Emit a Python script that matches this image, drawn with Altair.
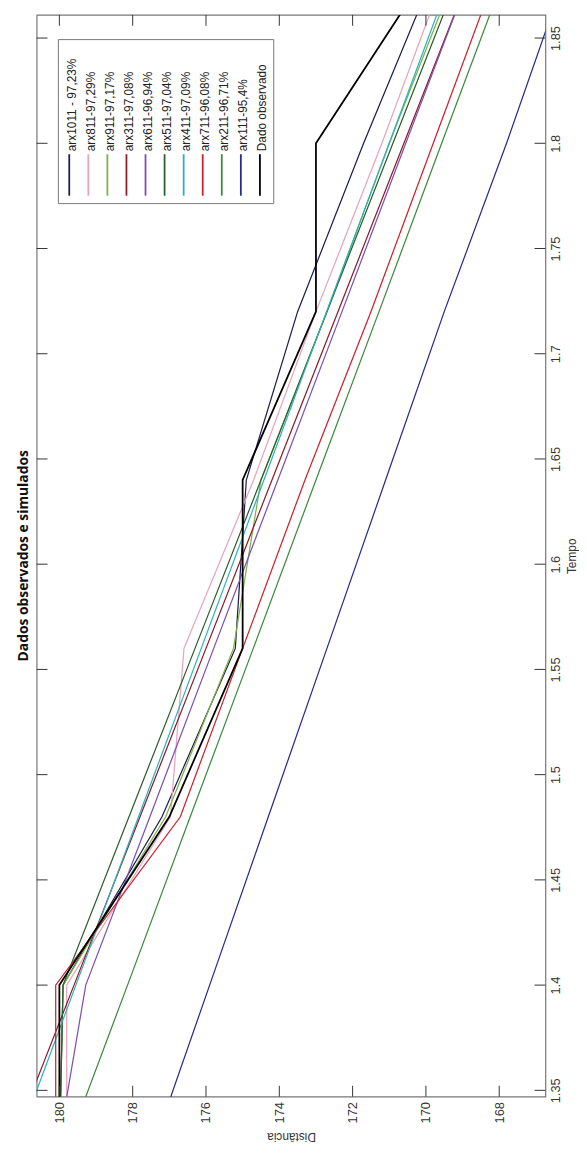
import altair as alt
import pandas as pd

# ---- data ----
tempo = [1.32, 1.40, 1.48, 1.56, 1.64, 1.72, 1.80, 1.88]

arx1011 = [180.0, 179.9, 177.2, 175.2, 174.9, 173.5, 171.7, 169.8]
arx811 = [179.8, 179.8, 176.97, 176.6, 174.7, 173.0, 171.2, 169.5]
arx911 = [180.0, 179.9, 177.1, 175.25, 174.5, 172.7, 171.0, 169.2]
arx311 = [181.4, 179.6, 177.8, 176.0, 174.2, 172.4, 170.6, 168.8]
arx611 = [180.06, 179.28, 177.53, 175.79, 174.04, 172.29, 170.55, 168.8]
arx511 = [180.0, 179.9, 178.1, 176.3, 174.5, 172.7, 170.9, 169.1]
arx411 = [181.26, 179.55, 177.84, 176.13, 174.42, 172.71, 171.0, 169.3]
arx711 = [180.1, 180.1, 176.7, 175.0, 173.3, 171.5, 169.8, 168.1]
arx211 = [179.86, 178.14, 176.43, 174.71, 173.0, 171.28, 169.57, 167.85]
arx111 = [177.5, 175.9, 174.3, 172.7, 171.1, 169.5, 167.8, 166.2]
observado = [180, 180, 177, 175, 175, 173, 173, 170]

series_names = ["arx1011 - 97,23%", "arx811-97,29%", "arx911-97,17%",
                "arx311-97,08%", "arx611-96,94%", "arx511-97,04%",
                "arx411-97,09%", "arx711-96,08%", "arx211-96,71%",
                "arx111-95,4%"]
series_values = [arx1011, arx811, arx911, arx311, arx611, arx511,
                 arx411, arx711, arx211, arx111]
series_colors = ["#1e1e50", "#e9a3bb", "#7cb342", "#8b1c2c", "#7b4fb5",
                 "#2d5e2d", "#2fb0bf", "#d0202c", "#3d8a3d", "#2a2a90"]
obs_name = "Dado observado"
obs_color = "#000000"

x_ticks = [168, 170, 172, 174, 176, 178, 180]
y_ticks = [1.35, 1.40, 1.45, 1.50, 1.55, 1.60, 1.65, 1.70, 1.75, 1.80, 1.85]

# ---- tables ----
rows = []
for name, vals in zip(series_names, series_values):
    for t, v in zip(tempo, vals):
        rows.append({"serie": name, "tempo": t, "dist": v})
df_sim = pd.DataFrame(rows)
df_obs = pd.DataFrame({"serie": obs_name, "tempo": tempo, "dist": observado})

W, H = 515, 1095
TL = 11  # inward tick length

xs = alt.Scale(domain=[166.74, 180.62], reverse=True, nice=False, zero=False)
ys = alt.Scale(domain=[1.347, 1.861], nice=False, zero=False)

FONT = "Liberation Sans"

xaxis = alt.Axis(values=x_ticks, orient="bottom", labelAngle=270,
                 labelAlign="right", labelBaseline="middle", labelPadding=5,
                 ticks=False, tickSize=0, domain=False, grid=False,
                 labelFlush=False, labelOverlap=False, format="d",
                 labelFont=FONT, labelFontSize=13, labelColor="#333",
                 title="Distância", titleAngle=180, titleBaseline="bottom",
                 titlePadding=7, titleFont=FONT, titleFontSize=12,
                 titleFontWeight="normal", titleColor="#333")
yaxis = alt.Axis(values=y_ticks, orient="right", labelAngle=270,
                 labelAlign="center", labelBaseline="top", labelPadding=4,
                 ticks=False, tickSize=0, domain=False, grid=False,
                 labelFlush=False, labelOverlap=False,
                 labelExpr="format(datum.value, '.2~f')",
                 labelFont=FONT, labelFontSize=13, labelColor="#333",
                 title="Tempo", titleAngle=270, titleBaseline="top",
                 titlePadding=4, titleFont=FONT, titleFontSize=12,
                 titleFontWeight="normal", titleColor="#333")

lines = alt.Chart(df_sim).mark_line(clip=True, strokeWidth=1.25).encode(
    x=alt.X("dist:Q", scale=xs, axis=xaxis),
    y=alt.Y("tempo:Q", scale=ys, axis=yaxis),
    color=alt.Color("serie:N", scale=alt.Scale(domain=series_names, range=series_colors), legend=None),
    order=alt.Order("tempo:Q"),
)
obs = alt.Chart(df_obs).mark_line(clip=True, strokeWidth=1.8, color=obs_color).encode(
    x=alt.X("dist:Q", scale=xs),
    y=alt.Y("tempo:Q", scale=ys),
    order=alt.Order("tempo:Q"),
)

df_xt = pd.DataFrame({"dist": x_ticks})
df_yt = pd.DataFrame({"tempo": y_ticks})
tick_col = "#333"
xt_bottom = alt.Chart(df_xt).mark_rule(color=tick_col).encode(
    x=alt.X("dist:Q", scale=xs), y=alt.value(H), y2=alt.value(H - TL))
xt_top = alt.Chart(df_xt).mark_rule(color=tick_col).encode(
    x=alt.X("dist:Q", scale=xs), y=alt.value(0), y2=alt.value(TL))
yt_left = alt.Chart(df_yt).mark_rule(color=tick_col).encode(
    y=alt.Y("tempo:Q", scale=ys), x=alt.value(0), x2=alt.value(TL))
yt_right = alt.Chart(df_yt).mark_rule(color=tick_col).encode(
    y=alt.Y("tempo:Q", scale=ys), x=alt.value(W - TL), x2=alt.value(W))

# ---- legend (rotated, drawn by hand) ----
leg_names = series_names + [obs_name]
leg_colors = series_colors + [obs_color]
df_leg = pd.DataFrame({"name": leg_names, "col": leg_colors, "i": list(range(len(leg_names)))})

leg_box = alt.Chart(pd.DataFrame({"a": [0]})).mark_rect(
    fill="white", stroke="#777", strokeWidth=1).encode(
    x=alt.value(22), x2=alt.value(240), y=alt.value(25), y2=alt.value(191))
leg_sym = alt.Chart(df_leg).transform_calculate(sx="33 + datum.i * 19.3").mark_rule(
    strokeWidth=1.8).encode(
    x=alt.X("sx:Q", scale=None, axis=None),
    y=alt.value(141), y2=alt.value(183),
    color=alt.Color("col:N", scale=None, legend=None))
leg_txt = alt.Chart(df_leg).transform_calculate(tx="35.5 + datum.i * 19.3").mark_text(
    angle=270, align="left", baseline="middle", font=FONT, fontSize=12,
    color="#222").encode(
    x=alt.X("tx:Q", scale=None, axis=None),
    y=alt.value(138),
    text="name:N")

chart = alt.layer(lines, obs, xt_bottom, xt_top, yt_left, yt_right,
                  leg_box, leg_sym, leg_txt).properties(
    width=W, height=H,
    padding={"left": 29, "top": 0, "right": 34, "bottom": 46},
    autosize=alt.AutoSizeParams(type="none"),
    title=alt.TitleParams("Dados observados e simulados", orient="left",
                          anchor="middle", font="Open Sans", fontSize=14,
                          fontWeight="bold", color="#111", offset=5),
).configure_view(stroke="#777", strokeWidth=1.2)

chart.save("out.html", embed_options={"renderer": "svg", "actions": False})
